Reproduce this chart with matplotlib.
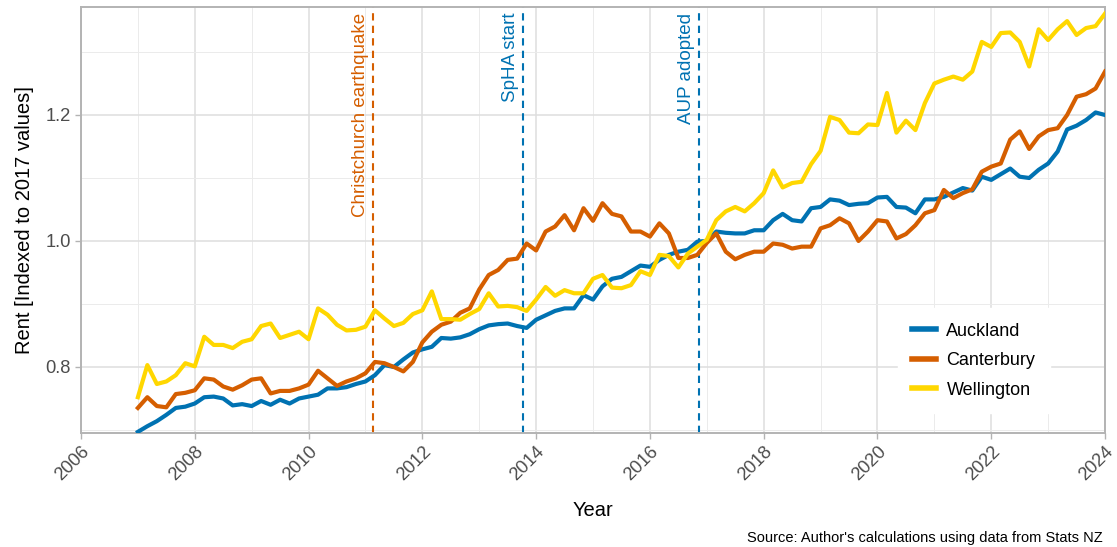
import numpy as np
import matplotlib
matplotlib.use("Agg")
import matplotlib.pyplot as plt
import matplotlib.transforms as mtransforms
from matplotlib.ticker import MultipleLocator

plt.rcParams['font.family'] = ['Liberation Sans', 'DejaVu Sans']

# bimonthly index values, Jan 2007 .. Jan 2024
auckland = [0.697, 0.706, 0.714, 0.724, 0.735, 0.737, 0.742, 0.752, 0.753, 0.750,
            0.739, 0.741, 0.738, 0.746, 0.740, 0.748, 0.742, 0.750, 0.753, 0.756,
            0.766, 0.766, 0.768, 0.773, 0.777, 0.787, 0.803, 0.800, 0.812, 0.823,
            0.828, 0.832, 0.846, 0.845, 0.847, 0.852, 0.860, 0.866, 0.868, 0.869,
            0.865, 0.862, 0.875, 0.882, 0.889, 0.893, 0.893, 0.914, 0.907, 0.928,
            0.940, 0.943, 0.952, 0.961, 0.959, 0.970, 0.978, 0.983, 0.986, 0.999,
            1.000, 1.015, 1.013, 1.012, 1.012, 1.017, 1.017, 1.033, 1.043, 1.033,
            1.031, 1.052, 1.054, 1.066, 1.064, 1.057, 1.059, 1.060, 1.069, 1.070,
            1.054, 1.053, 1.044, 1.066, 1.066, 1.070, 1.077, 1.084, 1.080, 1.102,
            1.097, 1.106, 1.115, 1.102, 1.100, 1.113, 1.123, 1.142, 1.177, 1.183,
            1.192, 1.204, 1.200]
canterbury = [0.735, 0.752, 0.738, 0.736, 0.757, 0.759, 0.763, 0.782, 0.780, 0.769,
              0.764, 0.771, 0.780, 0.782, 0.758, 0.762, 0.762, 0.766, 0.772, 0.794,
              0.782, 0.770, 0.777, 0.782, 0.790, 0.808, 0.806, 0.800, 0.793, 0.808,
              0.839, 0.856, 0.867, 0.872, 0.886, 0.893, 0.923, 0.946, 0.954, 0.970,
              0.972, 0.996, 0.985, 1.015, 1.023, 1.041, 1.017, 1.052, 1.032, 1.060,
              1.043, 1.039, 1.015, 1.015, 1.007, 1.028, 1.012, 0.973, 0.973, 0.978,
              0.997, 1.012, 0.983, 0.971, 0.978, 0.983, 0.983, 0.996, 0.994, 0.988,
              0.991, 0.991, 1.020, 1.025, 1.036, 1.028, 1.000, 1.015, 1.033, 1.031,
              1.004, 1.011, 1.025, 1.044, 1.049, 1.081, 1.068, 1.076, 1.082, 1.110,
              1.118, 1.123, 1.161, 1.174, 1.146, 1.166, 1.176, 1.179, 1.200, 1.229,
              1.233, 1.242, 1.269]
wellington = [0.752, 0.803, 0.773, 0.777, 0.787, 0.806, 0.801, 0.848, 0.835, 0.835,
              0.830, 0.840, 0.844, 0.865, 0.869, 0.846, 0.851, 0.856, 0.844, 0.893,
              0.883, 0.867, 0.858, 0.859, 0.864, 0.890, 0.877, 0.865, 0.870, 0.884,
              0.890, 0.920, 0.876, 0.876, 0.875, 0.884, 0.892, 0.917, 0.896, 0.897,
              0.895, 0.889, 0.907, 0.927, 0.913, 0.922, 0.917, 0.917, 0.940, 0.946,
              0.926, 0.925, 0.930, 0.952, 0.946, 0.978, 0.976, 0.958, 0.980, 0.991,
              1.002, 1.033, 1.047, 1.054, 1.047, 1.060, 1.076, 1.112, 1.085, 1.092,
              1.094, 1.122, 1.143, 1.197, 1.192, 1.172, 1.171, 1.185, 1.184, 1.235,
              1.172, 1.191, 1.176, 1.219, 1.250, 1.256, 1.261, 1.256, 1.269, 1.316,
              1.308, 1.330, 1.331, 1.316, 1.277, 1.336, 1.319, 1.336, 1.349, 1.327,
              1.338, 1.341, 1.361]

regions = ['Auckland', 'Canterbury', 'Wellington']
colours = ['#0072B2', '#D55E00', '#FFD700']

events = ['Christchurch earthquake', 'SpHA start', 'AUP adopted']
event_years = [2011.13, 2013.77, 2016.86]
event_colours = ['#D55E00', '#0072B2', '#0072B2']

years = 2007 + np.arange(len(auckland)) / 6.0

fig = plt.figure(figsize=(11.17, 5.47), dpi=100)
ax = fig.add_axes([0.0725, 0.2084, 0.9168, 0.7788])

for name, vals, c in zip(regions, [auckland, canterbury, wellington], colours):
    ax.plot(years, vals, color=c, lw=3, label=name, solid_joinstyle='round', zorder=3)

trans = mtransforms.blended_transform_factory(ax.transData, ax.transAxes)
for lab, yr, c in zip(events, event_years, event_colours):
    ax.axvline(yr, color=c, ls=(0, (3.5, 2.5)), lw=1.5, zorder=2)
    t = mtransforms.offset_copy(trans, fig=fig, x=-3, y=0, units='points')
    ax.text(yr, 0.986, lab, transform=t, rotation=90, ha='right', va='top',
            color=c, fontsize=13.5)

ax.set_xlim(2006, 2024)
ax.set_ylim(0.6952, 1.3714)
ax.xaxis.set_major_locator(MultipleLocator(2))
ax.xaxis.set_minor_locator(MultipleLocator(1))
ax.yaxis.set_major_locator(MultipleLocator(0.2))
ax.yaxis.set_minor_locator(MultipleLocator(0.1))
ax.yaxis.set_major_formatter(plt.FuncFormatter(lambda v, p: f'{v:.1f}'))

ax.grid(which='major', color='#DEDEDE', lw=1.1, zorder=0)
ax.grid(which='minor', color='#EBEBEB', lw=0.7, zorder=0)
ax.set_axisbelow(True)
for s in ax.spines.values():
    s.set_color('#B3B3B3')
    s.set_linewidth(1.4)

ax.tick_params(which='major', length=4, color='#B3B3B3', labelcolor='#4D4D4D',
               labelsize=13.2, width=1)
ax.tick_params(which='minor', length=0)
plt.setp(ax.get_xticklabels(), rotation=45, ha='right', rotation_mode='anchor')

ax.set_xlabel('Year', fontsize=14.5, labelpad=12)
ax.set_ylabel('Rent [Indexed to 2017 values]', fontsize=14.5, labelpad=8)

leg = ax.legend(loc='lower right', bbox_to_anchor=(0.946, 0.047), fontsize=13,
                frameon=True, framealpha=1, edgecolor='white', fancybox=False,
                handlelength=1.3, handletextpad=0.6, labelspacing=0.69,
                borderpad=0.8, borderaxespad=0)
for h in leg.get_lines():
    h.set_linewidth(4)

fig.text(0.987, 0.009, "Source: Author's calculations using data from Stats NZ",
         ha='right', va='baseline', fontsize=10.5)

plt.savefig('out.png', dpi=100)
